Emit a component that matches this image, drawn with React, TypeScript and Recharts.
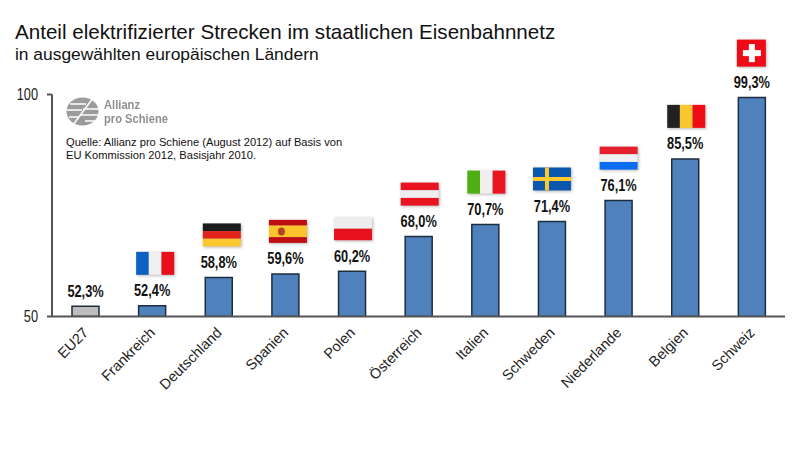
import { BarChart, Bar, Cell, XAxis, YAxis, LabelList } from "recharts";

const countries = ["EU27", "Frankreich", "Deutschland", "Spanien", "Polen", "Österreich", "Italien", "Schweden", "Niederlande", "Belgien", "Schweiz"];
const shares = [52.3, 52.4, 58.8, 59.6, 60.2, 68.0, 70.7, 71.4, 76.1, 85.5, 99.3];
const yTicks = [50, 100];
const flags = ["", "fr", "de", "es", "pl", "at", "it", "se", "nl", "be", "ch"];

const chartData = countries.map((name, i) => ({ name, share: shares[i], flag: flags[i] }));

const SANS = "Arial, 'Liberation Sans', sans-serif";

const stripes: Record<string, { dir: "h" | "v"; colors: string[]; weights?: number[] }> = {
  fr: { dir: "v", colors: ["#0b62c4", "#f0f0f0", "#e8101c"] },
  de: { dir: "h", colors: ["#1c1c1c", "#e2231a", "#fdc82f"] },
  es: { dir: "h", colors: ["#c00d12", "#fcc42c", "#c00d12"], weights: [1, 2, 1] },
  pl: { dir: "h", colors: ["#eeeeee", "#e8101f"] },
  at: { dir: "h", colors: ["#e8141f", "#efefef", "#e8141f"] },
  it: { dir: "v", colors: ["#4fae10", "#efefef", "#e8141f"] },
  nl: { dir: "h", colors: ["#e4202c", "#f0f0f0", "#0a6df0"] },
  be: { dir: "v", colors: ["#222222", "#fcc630", "#f00c14"] },
};

// flags do not sit exactly centred over the bars in the original
const flagShift: Record<string, number> = { fr: 3, de: 3, es: 2.5, pl: 1, at: 1, it: 1, se: 0, nl: 0, be: 1 };

const flagShadow = { filter: "drop-shadow(1.5px 1.5px 1.5px #b5b5b5)" };

const Flag = ({ code, cx, bottom }: { code: string; cx: number; bottom: number }) => {
  if (code === "ch") {
    const x = cx - 15;
    const y = bottom - 27;
    return (
      <g style={flagShadow}>
        <rect x={x} y={y} width={29} height={27} fill="#ee0a16" />
        <rect x={x + 6} y={y + 10.5} width={18} height={6} fill="#fff" />
        <rect x={x + 12} y={y + 4.5} width={6} height={18} fill="#fff" />
      </g>
    );
  }
  const w = 38;
  const h = 23;
  const x = cx + flagShift[code] - w / 2;
  const y = bottom - h;
  if (code === "se") {
    return (
      <g style={flagShadow}>
        <rect x={x} y={y} width={w} height={h} fill="#0a57ad" />
        <rect x={x} y={y + 9.5} width={w} height={4} fill="#fcc92e" />
        <rect x={x + 12} y={y} width={4} height={h} fill="#fcc92e" />
      </g>
    );
  }
  const def = stripes[code];
  const weights = def.weights ?? def.colors.map(() => 1);
  const total = weights.reduce((a, b) => a + b, 0);
  let used = 0;
  return (
    <g style={flagShadow}>
      {def.colors.map((c, i) => {
        const start = used / total;
        used += weights[i];
        const size = weights[i] / total;
        return def.dir === "h" ? (
          <rect key={i} x={x} y={y + start * h} width={w} height={size * h} fill={c} />
        ) : (
          <rect key={i} x={x + start * w} y={y} width={size * w} height={h} fill={c} />
        );
      })}
      {code === "es" && <ellipse cx={x + 12.5} cy={y + 11.5} rx={3.5} ry={4} fill="#b5431f" />}
    </g>
  );
};

const BarTopLabel = (props: any) => {
  const { x, y, width, index } = props;
  const cx = x + width / 2;
  const flag = flags[index];
  return (
    <g>
      {flag && <Flag code={flag} cx={cx} bottom={y - 31} />}
      <text
        transform={`translate(${cx},${y - 9.5}) scale(0.8,1)`}
        textAnchor="middle"
        fontFamily={SANS}
        fontWeight="bold"
        fontSize={16}
        fill="#111"
      >
        {shares[index].toFixed(1).replace(".", ",")}%
      </text>
    </g>
  );
};

const CountryTick = (props: any) => {
  const { x, y, payload } = props;
  return (
    <text
      transform={`translate(${x + 4},${y + 9}) rotate(-45)`}
      textAnchor="end"
      fontFamily={SANS}
      fontSize={14.5}
      fill="#222"
    >
      {payload.value}
    </text>
  );
};

const ValueTick = (props: any) => {
  const { x, y, payload } = props;
  return (
    <text
      transform={`translate(${x},${y + 5.5}) scale(0.8,1)`}
      textAnchor="end"
      fontFamily={SANS}
      fontSize={16}
      fill="#222"
    >
      {payload.value}
    </text>
  );
};

const Logo = () => (
  <svg width={34} height={30} style={{ position: "absolute", left: 66, top: 97 }} viewBox="0 0 34 30">
    <ellipse cx={16.5} cy={14.5} rx={16} ry={14} fill="#9c9c9c" />
    <path d="M0 13 H16 M3 20 H12 M4 7 H20 M14 18 H33 M17 12 H33 M19 24 H30" stroke="#fff" strokeWidth={1.6} />
    <path d="M7 28 L27 1" stroke="#fff" strokeWidth={1.5} />
  </svg>
);

const App = () => {
  return (
    <div style={{ position: "absolute", left: 0, top: 0, width: 800, height: 450, background: "#fff" }}>
      <BarChart
        width={800}
        height={450}
        data={chartData}
        margin={{ top: 94.5, right: 15, bottom: 73.5, left: 0 }}
        style={{ position: "absolute", left: 0, top: 0 }}
      >
        <XAxis
          dataKey="name"
          height={60}
          interval={0}
          tick={<CountryTick />}
          tickLine={false}
          axisLine={{ stroke: "#555", strokeWidth: 2 }}
        />
        <YAxis
          width={52}
          domain={[50, 100]}
          ticks={yTicks}
          tickSize={5}
          tickMargin={9}
          allowDataOverflow
          axisLine={{ stroke: "#555", strokeWidth: 2 }}
          tickLine={{ stroke: "#555", strokeWidth: 2 }}
          tick={<ValueTick />}
        />
        <Bar dataKey="share" barSize={27} stroke="#1d2d40" strokeWidth={1.5} isAnimationActive={false}>
          {chartData.map((d, i) => (
            <Cell key={i} fill={d.name === "EU27" ? "#bdbdbd" : "#4f81bd"} />
          ))}
          <LabelList dataKey="share" content={<BarTopLabel />} />
        </Bar>
      </BarChart>

      <div style={{ position: "absolute", left: 15, top: 20, fontFamily: SANS, fontSize: 20.6, color: "#111", whiteSpace: "nowrap" }}>
        Anteil elektrifizierter Strecken im staatlichen Eisenbahnnetz
      </div>
      <div style={{ position: "absolute", left: 15, top: 44, fontFamily: SANS, fontSize: 17.4, color: "#111", whiteSpace: "nowrap" }}>
        in ausgewählten europäischen Ländern
      </div>
      <Logo />
      <div style={{ position: "absolute", left: 104, top: 98, fontFamily: SANS, fontWeight: "bold", fontSize: 13, lineHeight: "14px", color: "#8f8f8f", whiteSpace: "nowrap", transform: "scaleX(0.86)", transformOrigin: "left top" }}>
        Allianz
        <br />
        pro Schiene
      </div>
      <div style={{ position: "absolute", left: 66, top: 136, fontFamily: SANS, fontSize: 11.15, lineHeight: "13px", color: "#111", whiteSpace: "nowrap" }}>
        Quelle: Allianz pro Schiene (August 2012) auf Basis von
        <br />
        EU Kommission 2012, Basisjahr 2010.
      </div>
    </div>
  );
};

export default App;
